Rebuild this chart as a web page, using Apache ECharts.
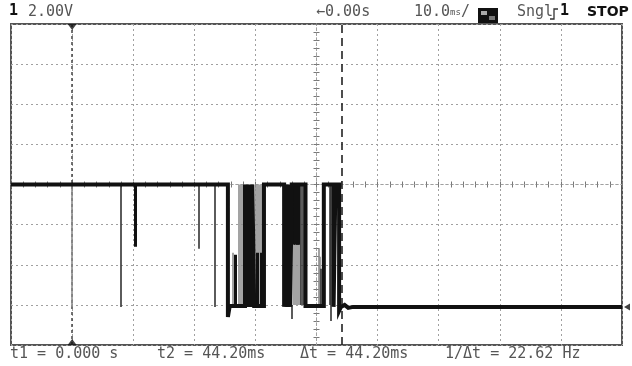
<!DOCTYPE html>
<html>
<head>
<meta charset="utf-8">
<script src="https://cdn.jsdelivr.net/npm/echarts@6/dist/echarts.min.js"></script>
<style>
  html, body { margin: 0; padding: 0; background: #fff; }
  #main { width: 632px; height: 366px; }
</style>
</head>
<body>
<div id="main"></div>
<script>
// 示波器截图：时间单位 ms（10 ms/div），电压单位 V（2 V/div）
const timeRange = [-10, 90];
const voltRange = [-8, 8];
const cursorT1 = 0;
const cursorT2 = 44.2;

// 主波形 [t, V]
const trace = [
  [-10, 0], [25.5, 0], [25.5, -6.6], [25.8, -6.05], [28.3, -6.05],
  [28.3, 0], [28.6, 0], [28.6, -6.1], [28.9, -6.1], [28.9, 0], [29.2, 0],
  [29.2, -6.1], [29.5, -6.1], [29.5, 0], [29.8, 0], [29.8, -6.05],
  [31.4, -6.05], [31.4, 0], [34.7, 0], [34.7, -6.1], [34.95, -6.1],
  [34.95, 0], [35.2, 0], [35.2, -6.1], [35.45, -6.1], [35.45, 0],
  [35.7, 0], [35.7, -6.1], [35.95, -6.1], [35.95, 0], [38.2, 0],
  [38.2, -6.05], [41.2, -6.05], [41.2, 0], [42.8, 0], [42.8, -6.1],
  [43.1, -6.1], [43.1, 0], [43.7, 0], [43.7, -6.3], [44.0, -6.1],
  [44.6, -6.0], [45.2, -6.15], [46.0, -6.1], [90, -6.1]
];

// 毛刺 / 余辉竖线 [t, 起点V, 终点V]
const heavyStrokes = [
  [10.3, 0, -3.1],
  [26.7, -3.5, -6.0], [30.3, -3.4, -6.0], [30.9, -3.4, -6.0],
  [36.2, 0, -3.0], [36.5, 0, -3.0], [36.8, 0, -3.0], [37.05, 0, -3.0]
];
const darkStrokes = [
  [7.9, 0, -6.1], [20.8, 0, -3.2], [23.4, 0, -6.1],
  [37.4, 0, -6.0], [37.8, 0, -6.0], [40.7, -6.0, -4.2],
  [42.1, 0, -6.0], [42.4, 0, -6.8], [35.9, -6.0, -6.7]
];
const grayStrokes = [
  [0, 0, -6.1], [26.3, -6.0, -3.4],
  [27.2, 0, -6.0], [27.55, 0, -6.0], [27.85, 0, -6.0], [28.1, 0, -6.0],
  [30.1, 0, -6.0], [30.45, 0, -6.0], [30.75, 0, -6.0], [31.05, 0, -6.0],
  [36.3, -3.0, -6.0], [36.65, -3.0, -6.0], [36.95, -3.0, -6.0],
  [37.2, 0, -6.0], [40.4, -6.0, -3.2], [40.55, -6.0, -3.6]
];

// 屏幕文字
const headerChannel = '1';
const headerScale = '2.00V';
const headerDelay = '←0.00s';
const headerMode = 'Sngl';
const headerState = 'STOP';
const footerLabels = ['t1 = 0.000 s', 't2 = 44.20ms', 'Δt = 44.20ms', '1/Δt = 22.62 Hz'];

const MONO = '"DejaVu Sans Mono", monospace';
const dotted = { color: '#a0a0a0', width: 1, type: [2, 3] };

function toLines(list) {
  return list.map(s => ({ coords: [[s[0], s[1]], [s[0], s[2]]] }));
}

// 中心十字上的刻度轴
function centerXAxis(position) {
  return {
    type: 'value', min: -50, max: 50, interval: 10, position: position,
    axisLine: { show: true, onZero: true, onZeroAxisIndex: 0, lineStyle: dotted },
    axisTick: { show: true, length: 3, lineStyle: { color: '#777' } },
    minorTick: { show: true, splitNumber: 5, length: 3, lineStyle: { color: '#777' } },
    axisLabel: { show: false }, splitLine: { show: false }
  };
}
function centerYAxis(position) {
  return {
    type: 'value', min: voltRange[0], max: voltRange[1], interval: 2, position: position,
    axisLine: { show: true, onZero: true, onZeroAxisIndex: 1, lineStyle: dotted },
    axisTick: { show: true, length: 3, lineStyle: { color: '#777' } },
    minorTick: { show: true, splitNumber: 5, length: 3, lineStyle: { color: '#777' } },
    axisLabel: { show: false }, splitLine: { show: false }
  };
}

const chart = echarts.init(document.getElementById('main'), null, { renderer: 'canvas' });

const option = {
  animation: false,
  backgroundColor: '#fff',
  grid: {
    left: 11, right: 10, top: 24, bottom: 21,
    show: true, borderColor: '#555', borderWidth: 2, backgroundColor: '#fff'
  },
  xAxis: [
    {
      type: 'value', min: timeRange[0], max: timeRange[1], interval: 10, position: 'bottom',
      axisLine: { show: false, onZero: false }, axisTick: { show: false }, axisLabel: { show: false },
      splitLine: { show: true, lineStyle: dotted }
    },
    centerXAxis('bottom'),
    centerXAxis('top')
  ],
  yAxis: [
    {
      type: 'value', min: voltRange[0], max: voltRange[1], interval: 2, position: 'left',
      axisLine: { show: false, onZero: false }, axisTick: { show: false }, axisLabel: { show: false },
      splitLine: { show: true, lineStyle: dotted }
    },
    centerYAxis('left'),
    centerYAxis('right')
  ],
  series: [
    {
      // 光标 t1 / t2（画在波形下面）
      type: 'line', data: [], silent: true,
      markLine: {
        silent: true, symbol: 'none', label: { show: false }, z: 1,
        data: [
          { xAxis: cursorT1, lineStyle: { color: '#444', width: 1.5, type: [3, 3] } },
          { xAxis: cursorT2, lineStyle: { color: '#222', width: 1.6, type: [8, 5] } }
        ]
      }
    },
    {
      type: 'lines', coordinateSystem: 'cartesian2d', silent: true,
      data: toLines(grayStrokes),
      lineStyle: { color: '#8c8c8c', width: 1.6, opacity: 1 }
    },
    {
      type: 'line', data: trace, showSymbol: false, silent: true,
      lineStyle: { color: '#111', width: 4, join: 'miter' }
    },
    {
      type: 'lines', coordinateSystem: 'cartesian2d', silent: true,
      data: toLines(darkStrokes),
      lineStyle: { color: '#333', width: 1.6, opacity: 1 }
    },
    {
      type: 'lines', coordinateSystem: 'cartesian2d', silent: true,
      data: toLines(heavyStrokes),
      lineStyle: { color: '#111', width: 3, opacity: 1 }
    },
    {
      // 光标与参考电平标记
      type: 'scatter', silent: true, clip: false,
      itemStyle: { color: '#111' },
      data: [
        { value: [cursorT1, voltRange[1]], symbol: 'triangle', symbolSize: [9, 6], symbolRotate: 180, symbolOffset: [0, 3] },
        { value: [cursorT1, voltRange[0]], symbol: 'triangle', symbolSize: [9, 6], symbolOffset: [0, -3] },
        { value: [timeRange[1], -6.1], symbol: 'triangle', symbolSize: [7, 6], symbolRotate: 90, symbolOffset: [5, 0] }
      ]
    }
  ],
  graphic: [
    { type: 'text', x: 9, y: 4, style: { text: headerChannel, font: 'bold 15px ' + MONO, fill: '#111' } },
    { type: 'text', x: 28, y: 5, style: { text: headerScale, font: '15px ' + MONO, fill: '#555' } },
    { type: 'text', x: 316, y: 5, style: { text: headerDelay, font: '15px ' + MONO, fill: '#555' } },
    {
      type: 'text', x: 414, y: 5,
      style: {
        text: '{a|10.0}{b|ms}{a|/}',
        rich: {
          a: { font: '15px ' + MONO, fill: '#555' },
          b: { font: '9px ' + MONO, fill: '#555' }
        }
      }
    },
    { type: 'rect', shape: { x: 478, y: 8, width: 20, height: 15 }, style: { fill: '#111' } },
    { type: 'rect', shape: { x: 481, y: 11, width: 6, height: 4 }, style: { fill: '#aaa' } },
    { type: 'rect', shape: { x: 489, y: 16, width: 6, height: 4 }, style: { fill: '#777' } },
    { type: 'text', x: 517, y: 5, style: { text: headerMode, font: '15px ' + MONO, fill: '#555' } },
    { type: 'polyline', shape: { points: [[550, 19], [554, 19], [554, 9], [558, 9]] }, style: { stroke: '#333', lineWidth: 1.3, fill: null } },
    { type: 'text', x: 560, y: 4, style: { text: '1', font: 'bold 15px ' + MONO, fill: '#111' } },
    { type: 'text', x: 587, y: 5, style: { text: headerState, font: 'bold 14px "DejaVu Sans", sans-serif', fill: '#111' } },
    { type: 'text', x: 10, y: 347, style: { text: footerLabels[0], font: '15px ' + MONO, fill: '#555' } },
    { type: 'text', x: 157, y: 347, style: { text: footerLabels[1], font: '15px ' + MONO, fill: '#555' } },
    { type: 'text', x: 300, y: 347, style: { text: footerLabels[2], font: '15px ' + MONO, fill: '#555' } },
    { type: 'text', x: 445, y: 347, style: { text: footerLabels[3], font: '15px ' + MONO, fill: '#555' } }
  ]
};

chart.setOption(option);
</script>
</body>
</html>
